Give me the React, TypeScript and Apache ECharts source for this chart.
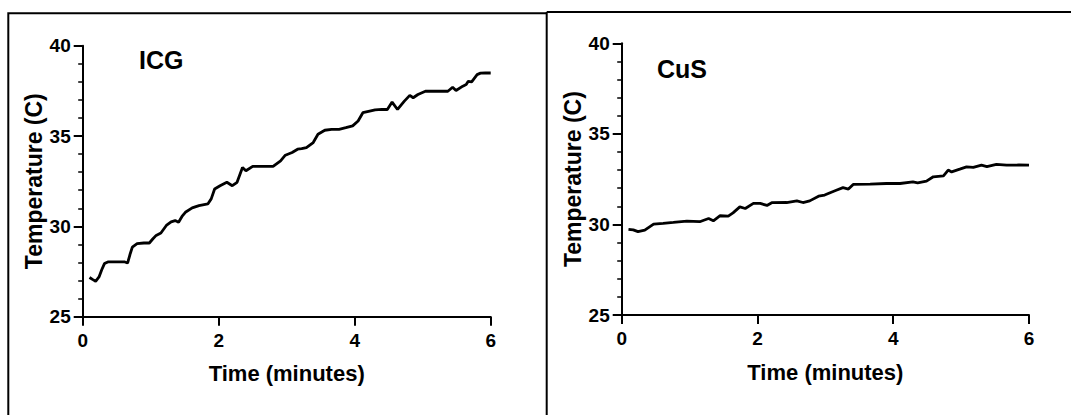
import React, { useEffect, useRef } from "react";
import * as echarts from "echarts";

// ICG panel: time (minutes) and temperature (C)
const icgTime = [0.10, 0.15, 0.19, 0.24, 0.28, 0.32, 0.37, 0.45, 0.55, 0.62, 0.66, 0.70, 0.73, 0.80, 0.90, 0.98, 1.03, 1.08, 1.15, 1.23, 1.30, 1.36, 1.41, 1.46, 1.51, 1.61, 1.71, 1.84, 1.89, 1.94, 2.02, 2.12, 2.20, 2.27, 2.35, 2.40, 2.50, 2.65, 2.80, 2.91, 2.98, 3.08, 3.16, 3.22, 3.29, 3.39, 3.46, 3.56, 3.66, 3.77, 3.87, 3.97, 4.05, 4.12, 4.22, 4.30, 4.40, 4.48, 4.55, 4.63, 4.73, 4.81, 4.86, 4.93, 5.04, 5.20, 5.37, 5.44, 5.49, 5.59, 5.64, 5.67, 5.72, 5.80, 5.85, 5.92, 6.00];
const icgTemp = [27.17, 27.05, 26.96, 27.20, 27.60, 27.94, 28.03, 28.03, 28.03, 28.03, 27.97, 28.50, 28.85, 29.04, 29.08, 29.08, 29.30, 29.50, 29.63, 30.05, 30.25, 30.32, 30.23, 30.55, 30.78, 31.02, 31.15, 31.24, 31.52, 32.07, 32.25, 32.44, 32.25, 32.44, 33.26, 33.08, 33.32, 33.32, 33.32, 33.63, 33.94, 34.09, 34.27, 34.30, 34.36, 34.64, 35.10, 35.32, 35.37, 35.37, 35.46, 35.56, 35.83, 36.29, 36.38, 36.45, 36.47, 36.47, 36.88, 36.47, 36.93, 37.25, 37.12, 37.30, 37.48, 37.48, 37.48, 37.70, 37.52, 37.76, 37.85, 38.03, 38.00, 38.40, 38.48, 38.49, 38.49];

// CuS panel: time (minutes) and temperature (C)
const cusTime = [0.10, 0.17, 0.24, 0.34, 0.47, 0.61, 0.76, 0.96, 1.15, 1.28, 1.35, 1.45, 1.57, 1.64, 1.74, 1.82, 1.94, 2.04, 2.14, 2.21, 2.43, 2.58, 2.67, 2.77, 2.90, 2.99, 3.07, 3.17, 3.26, 3.34, 3.41, 3.66, 3.90, 4.10, 4.29, 4.36, 4.49, 4.59, 4.74, 4.81, 4.86, 4.98, 5.08, 5.18, 5.30, 5.38, 5.52, 5.67, 5.85, 6.00];
const cusTemp = [29.73, 29.70, 29.60, 29.69, 30.02, 30.06, 30.11, 30.18, 30.15, 30.33, 30.20, 30.48, 30.46, 30.64, 30.97, 30.88, 31.16, 31.16, 31.05, 31.20, 31.21, 31.30, 31.21, 31.30, 31.56, 31.62, 31.75, 31.90, 32.03, 31.95, 32.21, 32.23, 32.26, 32.26, 32.35, 32.30, 32.39, 32.63, 32.68, 33.00, 32.90, 33.05, 33.18, 33.15, 33.27, 33.19, 33.31, 33.27, 33.28, 33.27];

const panelLabels = ["ICG", "CuS"];
const xAxisTitle = "Time (minutes)";
const yAxisTitle = "Temperature (C)";

const FONT = "'Liberation Sans', Arial, Helvetica, sans-serif";
const tickRich = { t: { fontFamily: FONT, fontWeight: "bold" as const, fontSize: 19, color: "#000" } };
const tickFormatter = (v: number) => `{t|${v}}`;

function makeX(gridIndex: number) {
  return {
    type: "value" as const,
    gridIndex,
    min: 0,
    max: 6,
    interval: 2,
    name: xAxisTitle,
    nameLocation: "middle" as const,
    nameGap: 46,
    nameTextStyle: { fontFamily: FONT, fontWeight: "bold", fontSize: 22, color: "#000" },
    axisLine: { show: true, lineStyle: { color: "#000", width: 2 } },
    axisTick: { show: true, length: 9, lineStyle: { color: "#000", width: 2 } },
    axisLabel: { fontFamily: FONT, fontWeight: "bold", fontSize: 19, color: "#000", margin: 14, formatter: tickFormatter, rich: tickRich },
    splitLine: { show: false },
  };
}

function makeY(gridIndex: number) {
  return {
    type: "value" as const,
    gridIndex,
    min: 25,
    max: 40,
    interval: 5,
    name: yAxisTitle,
    nameLocation: "middle" as const,
    nameGap: 37,
    nameTextStyle: { fontFamily: FONT, fontWeight: "bold", fontSize: 23, color: "#000" },
    axisLine: { show: true, lineStyle: { color: "#000", width: 2 } },
    axisTick: { show: true, length: 9, lineStyle: { color: "#000", width: 2 } },
    minorTick: { show: true, splitNumber: 5, length: 4.5, lineStyle: { color: "#000", width: 1.5 } },
    axisLabel: { fontFamily: FONT, fontWeight: "bold", fontSize: 19, color: "#000", margin: 12, formatter: tickFormatter, rich: tickRich },
    splitLine: { show: false },
  };
}

export default function App() {
  const ref = useRef<HTMLDivElement>(null);
  useEffect(() => {
    if (!ref.current) return;
    const chart = echarts.init(ref.current, undefined, { renderer: "svg" });
    const icgData = icgTime.map((t, i) => [t, icgTemp[i]]);
    const cusData = cusTime.map((t, i) => [t, cusTemp[i]]);
    chart.setOption({
      animation: false,
      backgroundColor: "#fff",
      title: [
        { text: panelLabels[0], left: 139, top: 47, padding: 0, textStyle: { fontFamily: FONT, fontWeight: "bold", fontSize: 25, color: "#000" } },
        { text: panelLabels[1], left: 657, top: 56, padding: 0, textStyle: { fontFamily: FONT, fontWeight: "bold", fontSize: 25, color: "#000" } },
      ],
      grid: [
        { left: 82.7, top: 45.7, right: 1071 - 490.7, bottom: 415 - 316.7, containLabel: false },
        { left: 621.7, top: 43.3, right: 1071 - 1029, bottom: 415 - 315, containLabel: false },
      ],
      xAxis: [makeX(0), makeX(1)],
      yAxis: [makeY(0), makeY(1)],
      series: [
        { type: "line", xAxisIndex: 0, yAxisIndex: 0, data: icgData, showSymbol: false, symbol: "none", lineStyle: { color: "#000", width: 2.8 }, smooth: false },
        { type: "line", xAxisIndex: 1, yAxisIndex: 1, data: cusData, showSymbol: false, symbol: "none", lineStyle: { color: "#000", width: 2.8 }, smooth: false },
      ],
      graphic: [
        { type: "polyline", shape: { points: [[8.3, 415], [8.3, 13.3], [546.7, 13.3]] }, style: { stroke: "#000", lineWidth: 2, fill: "none" } },
        { type: "line", shape: { x1: 546.7, y1: 12, x2: 546.7, y2: 415 }, style: { stroke: "#000", lineWidth: 2 } },
        { type: "line", shape: { x1: 546.7, y1: 12, x2: 1071, y2: 12 }, style: { stroke: "#000", lineWidth: 2 } },
      ],
    });
    return () => chart.dispose();
  }, []);
  return (
    <div
      ref={ref}
      style={{ position: "absolute", left: 0, top: 0, width: 1071, height: 415, background: "#fff" }}
    />
  );
}
